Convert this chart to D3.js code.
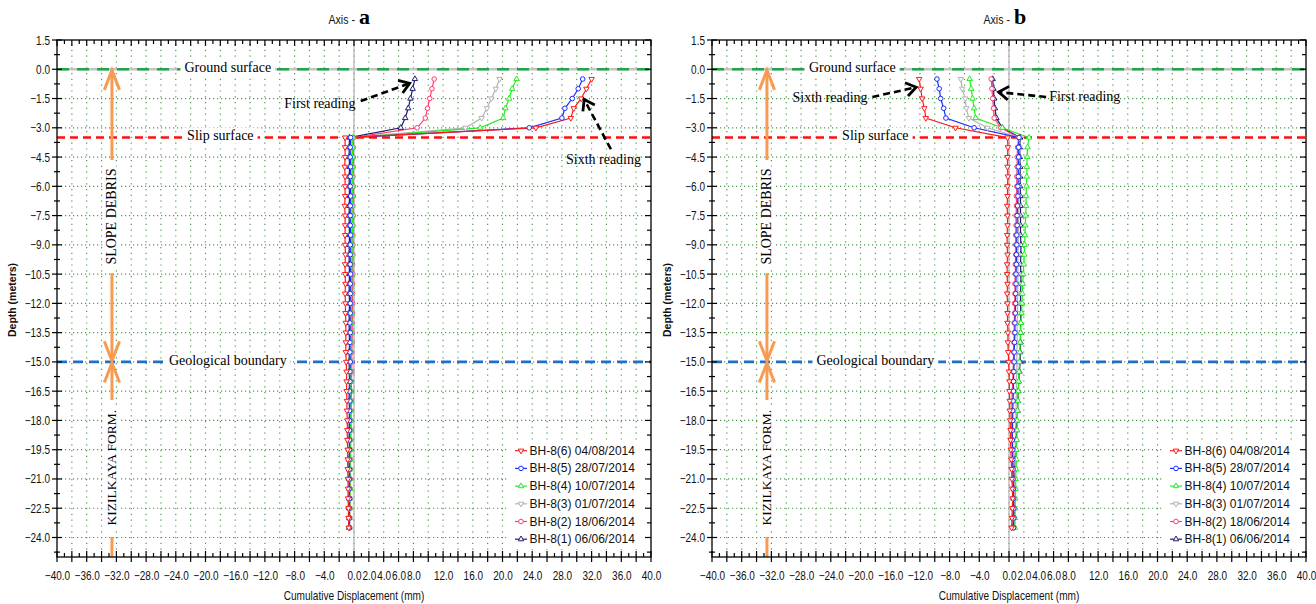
<!DOCTYPE html>
<html><head><meta charset="utf-8">
<script src="https://cdn.jsdelivr.net/npm/d3@7"></script>
<style>body{margin:0;background:#fff;} svg{display:block;}</style>
</head><body>
<svg id="chart" width="1316" height="604"></svg>
<script>
// ---------- DATA ----------
const depths = [-0.5,-1.0,-1.5,-2.0,-2.5,-3.0,-3.5,-4.0,-4.5,-5.0,-5.5,-6.0,-6.5,-7.0,-7.5,-8.0,-8.5,-9.0,-9.5,-10.0,-10.5,-11.0,-11.5,-12.0,-12.5,-13.0,-13.5,-14.0,-14.5,-15.0,-15.5,-16.0,-16.5,-17.0,-17.5,-18.0,-18.5,-19.0,-19.5,-20.0,-20.5,-21.0,-21.5,-22.0,-22.5,-23.0,-23.5];
const seriesNames = ["BH-8(6) 04/08/2014","BH-8(5) 28/07/2014","BH-8(4) 10/07/2014","BH-8(3) 01/07/2014","BH-8(2) 18/06/2014","BH-8(1) 06/06/2014"];
const xTickValues = [-40,-36,-32,-28,-24,-20,-16,-12,-8,-4,0,2,4,6,8,12,16,20,24,28,32,36,40];
const yTickValues = [1.5,0,-1.5,-3,-4.5,-6,-7.5,-9,-10.5,-12,-13.5,-15,-16.5,-18,-19.5,-21,-22.5,-24];

// Axis a
const a6 = [32.0,31.3,30.6,29.6,29.2,24.5,
 -1.2,-1.2,-1.2,-1.25,-1.2,-1.2,-1.2,-1.25,-1.2,-1.2,
 -1.2,-1.2,-1.15,-1.2,-1.2,-1.15,-1.2,-1.15,-1.15,-1.1,
 -1.1,-1.1,-1.1,-1.05,-1.0,-1.0,-1.0,-0.95,-0.95,-0.9,
 -0.9,-0.9,-0.85,-0.85,-0.85,-0.8,-0.8,-0.8,-0.75,-0.75,-0.7];
const a5 = [30.8,30.2,29.4,28.4,28.0,23.6,
 -0.45,-0.5,-0.5,-0.45,-0.5,-0.5,-0.45,-0.5,-0.5,-0.5,
 -0.45,-0.5,-0.5,-0.5,-0.45,-0.5,-0.5,-0.5,-0.5,-0.55,
 -0.5,-0.55,-0.55,-0.5,-0.55,-0.55,-0.6,-0.55,-0.6,-0.6,
 -0.6,-0.6,-0.6,-0.65,-0.6,-0.6,-0.65,-0.6,-0.65,-0.6,-0.6];
const a4 = [21.9,21.3,20.9,20.4,20.1,17.0,
 -0.15,-0.2,-0.2,-0.2,-0.25,-0.2,-0.2,-0.25,-0.25,-0.2,
 -0.25,-0.3,-0.25,-0.3,-0.3,-0.3,-0.3,-0.35,-0.3,-0.35,
 -0.35,-0.35,-0.4,-0.4,-0.4,-0.4,-0.45,-0.4,-0.45,-0.45,
 -0.45,-0.5,-0.5,-0.5,-0.5,-0.55,-0.5,-0.55,-0.55,-0.6,-0.6];
const a3 = [19.6,19.1,18.5,17.9,17.2,15.0,
 -0.35,-0.4,-0.35,-0.4,-0.4,-0.35,-0.4,-0.4,-0.4,-0.35,
 -0.4,-0.4,-0.4,-0.45,-0.4,-0.4,-0.45,-0.4,-0.45,-0.45,
 -0.45,-0.45,-0.5,-0.45,-0.5,-0.5,-0.5,-0.5,-0.55,-0.5,
 -0.55,-0.55,-0.55,-0.6,-0.55,-0.6,-0.6,-0.6,-0.6,-0.6,-0.65];
const a2 = [10.8,10.5,10.2,9.9,9.6,8.5,
 -0.1,-0.1,-0.1,-0.1,-0.15,-0.1,-0.1,-0.15,-0.1,-0.15,
 -0.15,-0.15,-0.15,-0.2,-0.15,-0.2,-0.2,-0.2,-0.2,-0.25,
 -0.25,-0.25,-0.3,-0.3,-0.3,-0.35,-0.35,-0.35,-0.4,-0.4,
 -0.4,-0.45,-0.45,-0.45,-0.5,-0.5,-0.5,-0.55,-0.55,-0.6,-0.6];
const a1 = [8.2,7.9,7.6,7.3,6.9,6.3,
 -0.6,-0.65,-0.65,-0.6,-0.65,-0.65,-0.6,-0.65,-0.65,-0.65,
 -0.6,-0.65,-0.65,-0.65,-0.6,-0.65,-0.65,-0.6,-0.65,-0.65,
 -0.65,-0.6,-0.65,-0.65,-0.65,-0.6,-0.65,-0.65,-0.6,-0.65,
 -0.65,-0.65,-0.6,-0.65,-0.65,-0.65,-0.6,-0.65,-0.65,-0.65,-0.65];

// Axis b
const b6 = [-12.1,-11.9,-11.7,-11.4,-11.2,-7.2,
 -0.2,-0.15,-0.2,-0.2,-0.15,-0.2,-0.2,-0.25,-0.2,-0.2,
 -0.25,-0.25,-0.2,-0.25,-0.25,-0.2,-0.25,-0.2,-0.2,-0.2,
 -0.15,-0.15,-0.1,-0.05,0.0,0.05,0.05,0.1,0.1,0.15,
 0.2,0.2,0.25,0.3,0.35,0.4,0.45,0.5,0.45,0.4,0.35];
const b5 = [-9.7,-9.4,-9.2,-8.8,-8.5,-4.7,
 1.35,1.3,1.3,1.25,1.25,1.2,1.2,1.15,1.1,1.1,
 1.05,1.05,1.0,1.0,0.95,0.95,0.9,0.9,0.85,0.8,
 0.8,0.75,0.7,0.7,0.65,0.6,0.6,0.55,0.5,0.5,
 0.45,0.45,0.5,0.5,0.55,0.55,0.6,0.6,0.65,0.65,0.6];
const b4 = [-5.3,-5.1,-4.9,-4.7,-4.5,-0.9,
 2.7,2.5,2.45,2.4,2.4,2.35,2.3,2.3,2.25,2.2,
 2.15,2.1,2.05,2.0,1.9,1.85,1.8,1.75,1.7,1.6,
 1.55,1.5,1.45,1.4,1.35,1.3,1.25,1.2,1.15,1.1,
 1.1,1.05,1.0,1.0,0.95,0.9,0.9,0.85,0.85,0.8,0.8];
const b3 = [-6.5,-6.3,-5.9,-5.75,-5.4,-2.9,
 1.4,1.4,1.35,1.35,1.35,1.3,1.3,1.3,1.3,1.25,
 1.25,1.25,1.2,1.2,1.2,1.2,1.15,1.15,1.15,1.1,
 1.1,1.1,1.05,1.05,1.05,1.0,1.0,0.95,0.95,0.9,
 0.9,0.85,0.85,0.8,0.8,0.8,0.75,0.75,0.75,0.7,0.7];
const b2 = [-2.4,-2.3,-2.2,-2.1,-2.0,-1.1,
 1.3,1.15,1.1,1.1,1.05,1.05,1.0,1.0,0.95,0.95,
 0.9,0.9,0.9,0.85,0.85,0.8,0.8,0.75,0.75,0.7,
 0.7,0.65,0.6,0.6,0.55,0.5,0.45,0.4,0.4,0.35,
 0.35,0.4,0.45,0.5,0.5,0.55,0.6,0.6,0.65,0.65,0.65];
const b1 = [-2.2,-2.1,-2.0,-1.9,-1.7,-0.9,
 1.5,1.45,1.45,1.5,1.5,1.5,1.55,1.55,1.55,1.55,
 1.55,1.6,1.6,1.55,1.6,1.6,1.55,1.55,1.6,1.55,
 1.55,1.55,1.5,1.5,1.4,1.3,1.25,1.2,1.15,1.05,
 1.0,0.95,0.9,0.8,0.75,0.7,0.65,0.6,0.6,0.55,0.55];

const groundDepth = 0, slipDepth = -3.5, geoDepth = -15;

// ---------- STYLE ----------
const seriesStyle = [
  {color:"#ff1a1a", marker:"down"},
  {color:"#1a2cff", marker:"circle"},
  {color:"#22ee22", marker:"up"},
  {color:"#b4b4b4", marker:"down"},
  {color:"#ff3c6e", marker:"circle"},
  {color:"#1c1c6e", marker:"up"}
];
const sans = "'Liberation Sans',Arial,sans-serif";
const serif = "'Liberation Serif','Times New Roman',serif";
const ORANGE = "#f79b52";
const NARROW = 0.8;

const panels = [
  {title:"a", left:57, right:651, series:[a6,a5,a4,a3,a2,a1],
   groundTx:-17, slipTx:-18, geoTx:-17,
   readings:[
     {text:"First reading", tx:-4.6, ty:-1.73, x1:0.9, y1:-1.63, x2:7.5, y2:-0.72},
     {text:"Sixth reading", tx:33.6, ty:-4.65, x1:34.6, y1:-4.1, x2:31.0, y2:-1.55}
   ]},
  {title:"b", left:712, right:1306, series:[b6,b5,b4,b3,b2,b1],
   groundTx:-21.1, slipTx:-18, geoTx:-18,
   readings:[
     {text:"Sixth reading", tx:-24.1, ty:-1.47, x1:-18.4, y1:-1.42, x2:-12.5, y2:-0.92},
     {text:"First reading", tx:10.2, ty:-1.42, x1:5.0, y1:-1.42, x2:-1.4, y2:-1.17}
   ]}
];
const TOP = 40, BOTTOM = 557;

const svg = d3.select("#chart");

function chevron(g, x1, y1, x2, y2, len, ang, color, width) {
  const a = Math.atan2(y1 - y2, x1 - x2);
  const p1 = [x2 + len*Math.cos(a+ang), y2 + len*Math.sin(a+ang)];
  const p2 = [x2 + len*Math.cos(a-ang), y2 + len*Math.sin(a-ang)];
  g.append("path").attr("d", `M${p1[0]},${p1[1]}L${x2},${y2}L${p2[0]},${p2[1]}`)
    .attr("fill","none").attr("stroke",color).attr("stroke-width",width)
    .attr("stroke-linejoin","miter").attr("stroke-linecap","butt");
}

function textWithBg(g, str, x, y, size, family, rotate) {
  const grp = g.append("g");
  const bg = grp.append("rect").attr("fill","#fff");
  const t = grp.append("text").attr("x",x).attr("y",y).text(str)
    .attr("font-family",family).attr("font-size",size)
    .attr("text-anchor","middle").attr("dominant-baseline","central").attr("fill","#000");
  if (rotate) t.attr("transform",`rotate(-90,${x},${y})`);
  const bb = t.node().getBBox();
  if (rotate) {
    bg.attr("x", x - bb.height/2 - 1).attr("y", y - bb.width/2 - 2)
      .attr("width", bb.height + 2).attr("height", bb.width + 4);
  } else {
    bg.attr("x", bb.x - 4).attr("y", y - 8).attr("width", bb.width + 8).attr("height", 16);
  }
  return grp;
}

function drawMarker(g, cx, cy, st) {
  if (st.marker === "circle") {
    g.append("circle").attr("cx",cx).attr("cy",cy).attr("r",2.3)
      .attr("fill","#fff").attr("stroke",st.color).attr("stroke-width",1);
  } else {
    const sym = d3.symbol().type(d3.symbolTriangle).size(13);
    g.append("path").attr("d",sym())
      .attr("transform",`translate(${cx},${cy})${st.marker==="down"?" rotate(180)":""}`)
      .attr("fill","#fff").attr("stroke",st.color).attr("stroke-width",1);
  }
}

panels.forEach(p => {
  const x = d3.scaleLinear().domain([-40,40]).range([p.left,p.right]);
  const y = d3.scaleLinear().domain([1.5,-25]).range([TOP,BOTTOM]);
  const g = svg.append("g");

  // grid
  const grid = g.append("g");
  d3.range(-38, 40, 2).forEach(v => {
    grid.append("line").attr("x1",x(v)).attr("x2",x(v)).attr("y1",TOP+4).attr("y2",BOTTOM)
      .attr("stroke","#4f9a4f").attr("stroke-width",1.2).attr("stroke-dasharray","1.2,4.6");
  });
  yTickValues.filter(v => v < 1.5).forEach(v => {
    grid.append("line").attr("x1",p.left).attr("x2",p.right).attr("y1",y(v)).attr("y2",y(v))
      .attr("stroke","#4f9a4f").attr("stroke-width",1.2).attr("stroke-dasharray","1.2,2.8");
  });

  // zero lines
  g.append("line").attr("x1",x(0)).attr("x2",x(0)).attr("y1",TOP).attr("y2",BOTTOM)
    .attr("stroke","#b0b0b0").attr("stroke-width",1.2);
  g.append("line").attr("x1",p.left).attr("x2",p.right).attr("y1",y(0)).attr("y2",y(0))
    .attr("stroke","#c4c4c4").attr("stroke-width",2.5);

  // reference lines
  g.append("line").attr("x1",p.left).attr("x2",p.right).attr("y1",y(groundDepth)).attr("y2",y(groundDepth))
    .attr("stroke","#1fa64a").attr("stroke-width",2.6).attr("stroke-dasharray","12,8");
  g.append("line").attr("x1",p.left).attr("x2",p.right).attr("y1",y(slipDepth)).attr("y2",y(slipDepth))
    .attr("stroke","#ff1010").attr("stroke-width",2.6).attr("stroke-dasharray","8,5");
  g.append("line").attr("x1",p.left).attr("x2",p.right).attr("y1",y(geoDepth)).attr("y2",y(geoDepth))
    .attr("stroke","#1f6fc2").attr("stroke-width",2.6).attr("stroke-dasharray","10,6");

  textWithBg(g, "Ground surface", x(p.groundTx), y(groundDepth)-2, 14, serif);
  textWithBg(g, "Slip surface", x(p.slipTx), y(slipDepth)-2, 14, serif);
  textWithBg(g, "Geological boundary", x(p.geoTx), y(geoDepth)-1, 14, serif);

  // series
  const sg = g.append("g");
  const order = [5,4,3,2,1,0];
  order.forEach(i => {
    const vals = p.series[i];
    const st = seriesStyle[i];
    const pts = depths.map((d,k) => [vals[k], d]);
    sg.append("path").datum(pts)
      .attr("d", d3.line().x(d => x(d[0])).y(d => y(d[1])))
      .attr("fill","none").attr("stroke",st.color).attr("stroke-width",1.2);
  });
  order.forEach(i => {
    const vals = p.series[i];
    const st = seriesStyle[i];
    const pts = depths.map((d,k) => [vals[k], d]);
    const mg = sg.append("g");
    pts.forEach(pt => drawMarker(mg, x(pt[0]), y(pt[1]), st));
  });

  // orange arrows
  const ox = x(-32.6);
  const og = g.append("g");
  const seg = (ya, yb) => og.append("line").attr("x1",ox).attr("x2",ox).attr("y1",ya).attr("y2",yb)
      .attr("stroke",ORANGE).attr("stroke-width",3);
  seg(y(0)+1, y(-4.65));
  chevron(og, ox, y(-4), ox, y(0)+1, 21, 0.37, ORANGE, 3);
  seg(y(-10.45), y(-15)-1);
  chevron(og, ox, y(-12), ox, y(-15)-1, 21, 0.37, ORANGE, 3);
  seg(y(-15)+1, y(-16.95));
  chevron(og, ox, y(-17), ox, y(-15)+1, 21, 0.37, ORANGE, 3);
  seg(y(-23.97), BOTTOM);
  textWithBg(og, "SLOPE DEBRIS", ox, y(-7.55), 14, serif, true);
  textWithBg(og, "KIZILKAYA FORM.", ox, y(-20.42), 13.5, serif, true);

  // readings annotations
  p.readings.forEach(r => {
    const ag = g.append("g");
    ag.append("text").attr("x",x(r.tx)).attr("y",y(r.ty)).text(r.text)
      .attr("font-family",serif).attr("font-size",14).attr("text-anchor","middle")
      .attr("dominant-baseline","central");
    ag.append("line").attr("x1",x(r.x1)).attr("y1",y(r.y1)).attr("x2",x(r.x2)).attr("y2",y(r.y2))
      .attr("stroke","#000").attr("stroke-width",2.6).attr("stroke-dasharray","7,4");
    chevron(ag, x(r.x1), y(r.y1), x(r.x2), y(r.y2), 12, 0.6, "#000", 2.8);
  });

  // legend
  const lg = g.append("g");
  lg.append("rect").attr("x",p.left+452).attr("y",440).attr("width",p.right-p.left-453).attr("height",109)
    .attr("fill","#fff");
  seriesNames.forEach((name,i) => {
    const st = seriesStyle[i];
    const ly = 450.7 + i*17.7;
    lg.append("line").attr("x1",p.left+458).attr("x2",p.left+470).attr("y1",ly).attr("y2",ly)
      .attr("stroke",st.color).attr("stroke-width",1.2);
    drawMarker(lg, p.left+464, ly, st);
    lg.append("text").attr("x",p.left+472.5).attr("y",ly).text(name)
      .attr("font-family",sans).attr("font-size",12).attr("dominant-baseline","central").attr("fill","#111");
  });

  // frame
  g.append("rect").attr("x",p.left).attr("y",TOP).attr("width",p.right-p.left).attr("height",BOTTOM-TOP)
    .attr("fill","none").attr("stroke","#000").attr("stroke-width",1.3);

  // minor ticks
  const tk = g.append("g").attr("stroke","#000").attr("stroke-width",1.2);
  d3.range(-40, 41, 1).forEach(v => {
    const long = (v % 2 === 0);
    tk.append("line").attr("x1",x(v)).attr("x2",x(v)).attr("y1",BOTTOM-(long?6:4)).attr("y2",BOTTOM+(long?5:0));
    tk.append("line").attr("x1",x(v)).attr("x2",x(v)).attr("y1",TOP).attr("y2",TOP+(long?6:4));
  });
  d3.range(0, 36, 1).forEach(k => {
    const v = 1.5 - k*0.75;
    const major = (k % 2 === 0);
    tk.append("line").attr("x1",p.left-(major?5:3)).attr("x2",p.left+(major?5:3)).attr("y1",y(v)).attr("y2",y(v));
    tk.append("line").attr("x1",p.right-(major?6:4)).attr("x2",p.right).attr("y1",y(v)).attr("y2",y(v));
  });

  // axes labels via d3 axes (condensed by horizontal scaling)
  const fmt = d3.format(".1f");
  const xa = g.append("g").attr("transform",`translate(0,${BOTTOM})`)
    .call(d3.axisBottom(x).tickValues(xTickValues).tickFormat(fmt).tickSize(0).tickPadding(14));
  xa.select(".domain").remove();
  xa.selectAll("text").attr("font-family",sans).attr("font-size",12.5).attr("fill","#111")
    .attr("transform",`scale(${NARROW},1)`);
  const ya = g.append("g").attr("transform",`translate(${p.left},0)`)
    .call(d3.axisLeft(y).tickValues(yTickValues).tickFormat(fmt).tickSize(0).tickPadding(7));
  ya.select(".domain").remove();
  ya.selectAll("text").attr("font-family",sans).attr("font-size",12.5).attr("fill","#111")
    .attr("x", -7/NARROW).attr("transform",`scale(${NARROW},1)`);

  // axis titles
  g.append("text").attr("transform",`translate(${x(0)},600) scale(0.84,1)`).text("Cumulative Displacement (mm)")
    .attr("font-family",sans).attr("font-size",12).attr("text-anchor","middle").attr("fill","#111");
  g.append("text").attr("transform",`translate(${p.left-41},300) rotate(-90)`).text("Depth (meters)")
    .attr("font-family",sans).attr("font-weight","bold").attr("font-size",10.5)
    .attr("text-anchor","middle").attr("fill","#111");

  // chart title (centred on the plot)
  g.append("text").attr("transform",`translate(${x(0)+1},24) scale(0.85,1)`).text("Axis -")
    .attr("font-family",sans).attr("font-size",12.5).attr("text-anchor","end").attr("fill","#111");
  g.append("text").attr("x",x(0)+5).attr("y",24).text(p.title)
    .attr("font-family",serif).attr("font-weight","bold").attr("font-size",22).attr("fill","#000");
});
</script>
</body></html>
